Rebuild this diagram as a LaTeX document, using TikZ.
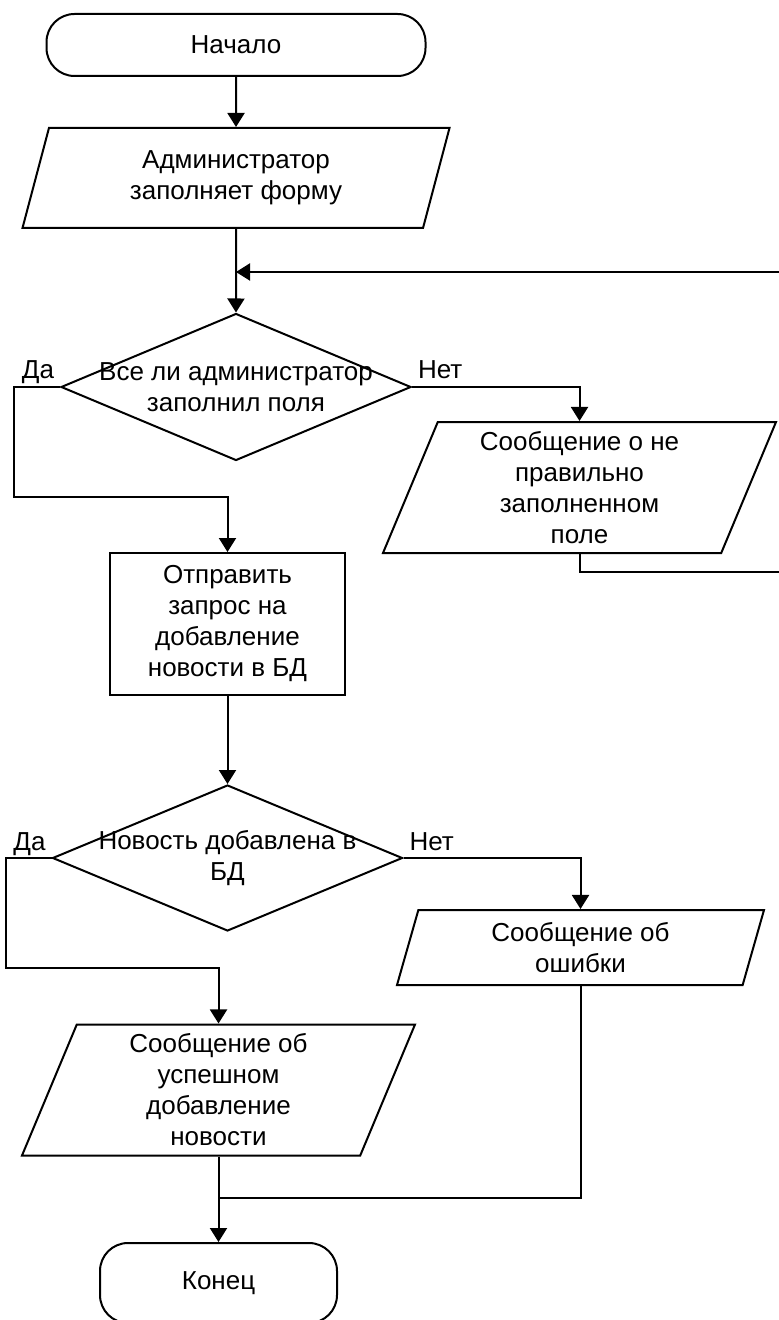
\documentclass[tikz,border=0pt]{standalone}
\usepackage{fontspec}
\setmainfont{Liberation Sans}
\usetikzlibrary{shapes,arrows.meta}
\tikzset{
    term/.style = {draw,
                   rectangle,
                   rounded corners=14pt,
                   minimum width=189.5pt,
                   minimum height=31pt
    },
    io/.style = {draw,
                 trapezium,
                 trapezium left angle=64,
                 trapezium right angle=116,
                 trapezium stretches body,
                 align=center,
                 inner sep=0pt
    },
    block/.style = {draw,
                    rectangle,
                    align=center,
                    minimum width=117.5pt,
                    minimum height=71pt
    },
    decision/.style = {draw,
                       diamond,
                       inner sep=0pt,
                       minimum width=175pt,
                       minimum height=73.5pt
    },
    answer/.style = {inner xsep=2.5pt, inner ysep=3.5pt, text depth=0pt}
}

\begin{document}
\begin{tikzpicture}[x=0.5pt, y=-0.5pt, line width=1pt,
    >={Triangle[length=7pt,width=8.5pt]},
    every node/.append style={font=\fontsize{13}{15.5}\selectfont}]
    \path[use as bounding box, clip] (0,0) rectangle (779,1320);

    \node [term] (start) at (236,45) {Начало};
    \node [io, node distance=66.5pt, below of=start,
           minimum width=213.5pt, minimum height=50pt] (fill) {Администратор\\заполняет форму};
    \node [decision, node distance=104.5pt, below of=fill,
           label={[align=center]center:Все ли администратор\\заполнил поля}] (check1) {};
    \node [io, minimum width=196.5pt, minimum height=65.5pt]
          (errfill) at (579.5,487.5) {Сообщение о не\\правильно\\заполненном\\поле};
    \node [block, node distance=118.5pt, below of=check1, xshift=-4.25pt]
          (send) {Отправить\\запрос на\\добавление\\новости в БД};
    \node [decision, node distance=117pt, below of=send, minimum height=73pt,
           label={[align=center]center:Новость добавлена в\\БД}] (check2) {};
    \node [io, trapezium left angle=67, trapezium right angle=113,
           minimum width=183.5pt, minimum height=37.5pt]
          (errmsg) at (580.5,947.5) {Сообщение об\\ошибки};
    \node [io, node distance=116pt, below of=check2, xshift=-4.5pt,
           minimum width=196.5pt, minimum height=65.5pt]
          (okmsg) {Сообщение об\\успешном\\добавление\\новости};
    \node [term, node distance=96.5pt, below of=okmsg,
           minimum width=118.5pt, minimum height=40pt] (finish) {Конец};

    \coordinate (merge) at (236,272);
    \coordinate (loop)  at (800,572);
    \coordinate (yes1)  at (14,497);
    \coordinate (yes2)  at (6,968);
    \coordinate (join)  at (218.5,1198);

    \draw[->] (start) -- (fill);
    \draw[->] (fill) -- (check1);
    \draw[->] (check1.west) node[answer, above left]{Да} -| (yes1) -| (send.north);
    \draw[->] (check1.east) node[answer, above right]{Нет} -| (errfill.north);
    \draw[->] (errfill.south) |- (loop) |- (merge);
    \draw[->] (send) -- (check2);
    \draw[->] (check2.west) node[answer, above left]{Да} -| (yes2) -| (okmsg.north);
    \draw[->] (check2.east) node[answer, above right]{Нет} -| (errmsg.north);
    \draw (errmsg.south) |- (join);
    \draw[->] (okmsg) -- (finish);
\end{tikzpicture}
\end{document}
